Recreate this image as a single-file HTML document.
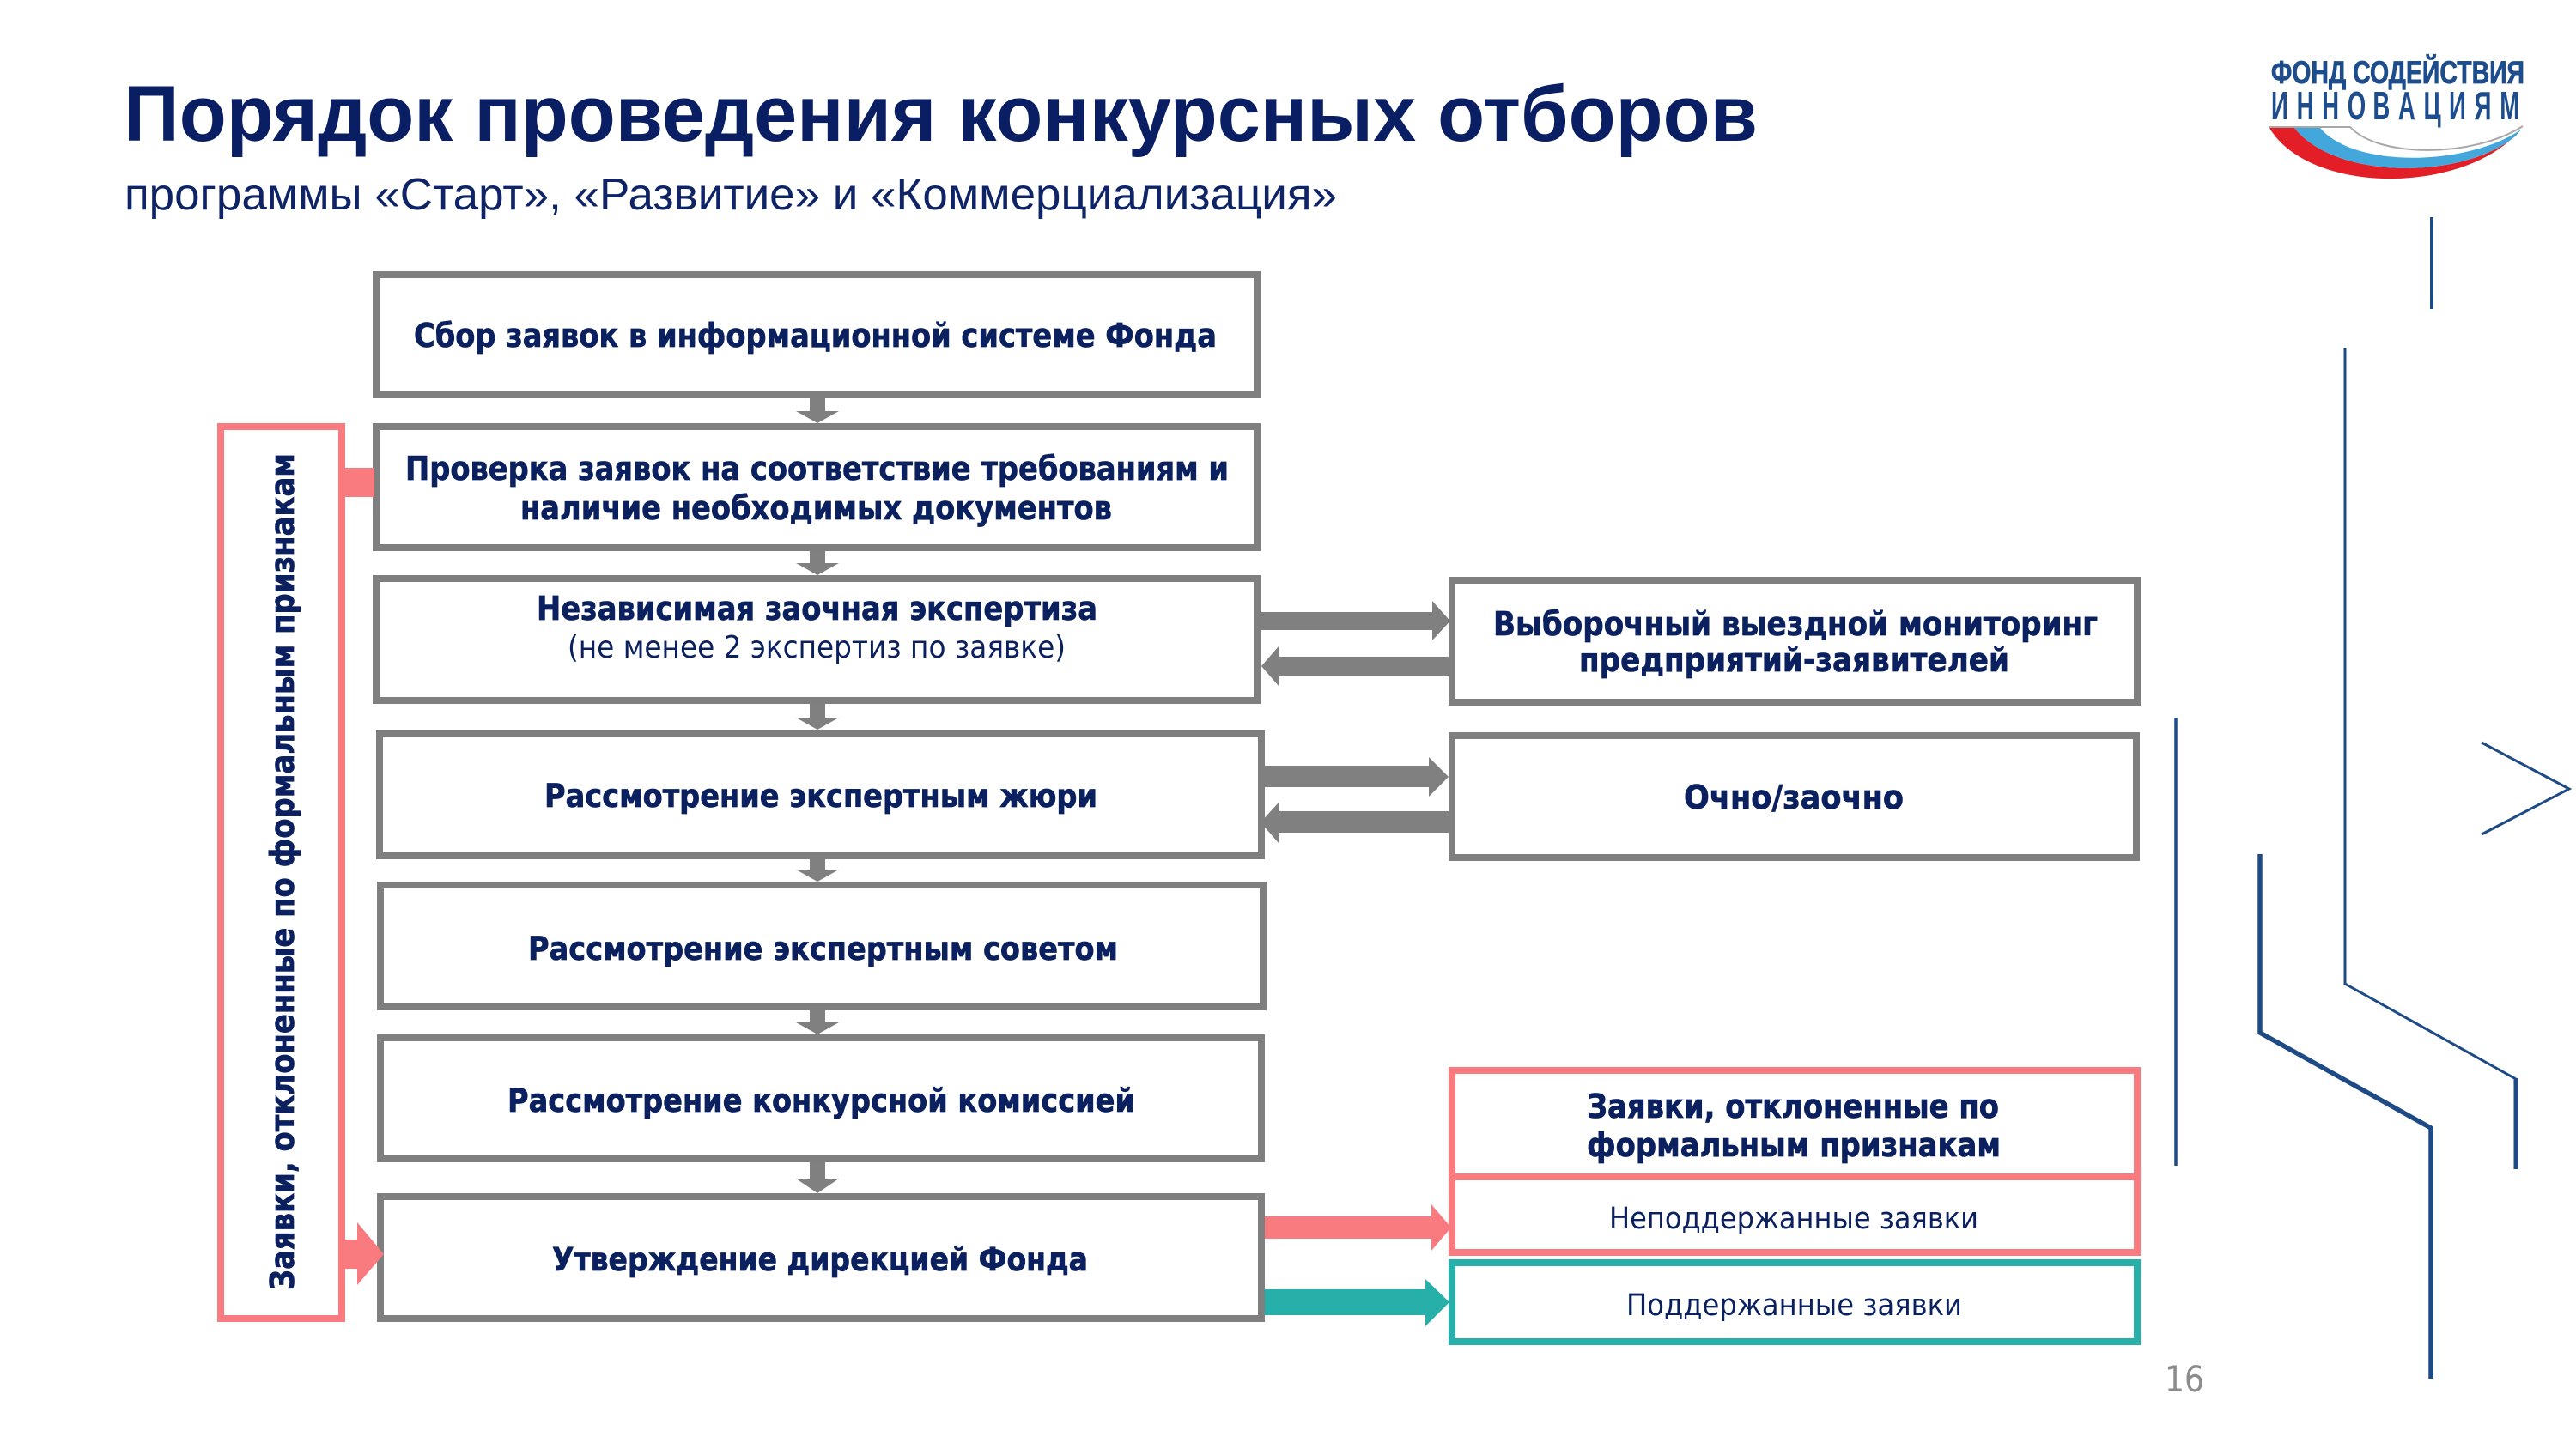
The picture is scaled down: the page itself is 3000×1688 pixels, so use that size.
<!DOCTYPE html>
<html><head><meta charset="utf-8"><style>
html,body{margin:0;padding:0;background:#fff;}
svg{display:block;}
.b{font-family:"DejaVu Sans","Liberation Sans",sans-serif;font-weight:bold;fill:#0b215f;stroke:#0b215f;stroke-width:0.7;}
.r{font-family:"DejaVu Sans","Liberation Sans",sans-serif;font-weight:normal;fill:#0b215f;}
</style></head><body>
<svg width="3000" height="1688" viewBox="0 0 3000 1688" xmlns="http://www.w3.org/2000/svg">
<rect width="3000" height="1688" fill="#fff"/>

<!-- Title -->
<text x="144" y="164" font-family="Liberation Sans, sans-serif" font-weight="bold" font-size="92" fill="#0a1f63" textLength="1903" lengthAdjust="spacingAndGlyphs">Порядок проведения конкурсных отборов</text>
<text x="145" y="244" font-family="Liberation Sans, sans-serif" font-size="52" fill="#0e2467" textLength="1412" lengthAdjust="spacingAndGlyphs">программы «Старт», «Развитие» и «Коммерциализация»</text>

<!-- Logo -->
<text x="2645" y="97" font-family="Liberation Sans, sans-serif" font-weight="bold" font-size="37" fill="#1d4d8c" stroke="#1d4d8c" stroke-width="0.8" textLength="295" lengthAdjust="spacingAndGlyphs">ФОНД СОДЕЙСТВИЯ</text>
<g transform="translate(2645,139) scale(0.6,1)">
<text x="0 49.3 98.6 147.9 197.2 246.5 295.8 345.1 394.4 443.7" y="0" font-family="Liberation Sans, sans-serif" font-weight="bold" font-size="46" fill="#1d4d8c">ИННОВАЦИЯМ</text>
</g>
<path d="M2643,149 C2690,228 2875,228 2938,148 L2930,158 C2870,210 2720,210 2672,149 Z" fill="#e31e26"/>
<path d="M2672,149 C2720,210 2870,210 2930,158 L2936,151 C2870,195 2740,195 2702,149 Z" fill="#43a7dc"/>
<path d="M2643,148 L2737,148 C2770,184 2880,184 2938,147" fill="none" stroke="#a8a8a8" stroke-width="2"/>

<!-- Decorative lines -->
<g stroke="#1e4a85" fill="none" stroke-linejoin="miter">
<line x1="2832" y1="253" x2="2832" y2="360" stroke-width="4"/>
<polyline points="2731,405 2731,1146 2930,1257" stroke-width="3"/>
<line x1="2930" y1="1256" x2="2930" y2="1362" stroke-width="5"/>
<line x1="2534" y1="836" x2="2534" y2="1358" stroke-width="3.5"/>
<polyline points="2632,995 2632,1203 2831,1314 2831,1606" stroke-width="5.5"/>
<polyline points="2890,865 2992,919 2890,972" stroke-width="3"/>
</g>
<text x="2521" y="1621" font-family="DejaVu Sans, sans-serif" font-size="42" fill="#8c8c8c" textLength="46" lengthAdjust="spacingAndGlyphs">16</text>

<!-- Down arrows -->
<g fill="#808080">
<rect x="943" y="462" width="18" height="18"/><polygon points="927,479 977,479 952,493"/>
<rect x="943" y="640" width="18" height="17"/><polygon points="927,656 977,656 952,670"/>
<rect x="943" y="818" width="18" height="19"/><polygon points="927,836 977,836 952,850"/>
<rect x="943" y="999" width="18" height="15"/><polygon points="927,1013 977,1013 952,1027"/>
<rect x="943" y="1175" width="18" height="17"/><polygon points="927,1191 977,1191 952,1205"/>
<rect x="943" y="1352" width="18" height="22"/><polygon points="927,1373 977,1373 952,1390"/>
</g>

<!-- Main boxes -->
<g fill="#fff" stroke="#7f7f7f" stroke-width="8">
<rect x="438" y="320" width="1026" height="140"/>
<rect x="438" y="497" width="1026" height="141"/>
<rect x="438" y="674" width="1026" height="142"/>
<rect x="442" y="854" width="1027" height="143"/>
<rect x="443" y="1031" width="1028" height="142"/>
<rect x="443" y="1209" width="1026" height="141"/>
<rect x="443" y="1394" width="1026" height="142"/>
<rect x="1691" y="676" width="798" height="142"/>
<rect x="1691" y="857" width="797" height="142"/>
</g>
<g fill="#fff" stroke="#f97b80" stroke-width="8">
<rect x="1691" y="1247" width="798" height="212"/>
<line x1="1691" y1="1371" x2="2489" y2="1371"/>
<rect x="257" y="497" width="141" height="1039"/>
</g>
<rect x="1691" y="1471" width="798" height="92" fill="#fff" stroke="#27b0aa" stroke-width="8"/>

<!-- Horizontal arrows -->
<g fill="#808080">
<polygon points="1468,713 1668,713 1668,700 1689,723.5 1668,746 1668,734 1468,734"/>
<polygon points="1689,765 1489,765 1489,753 1469,776 1489,799 1489,788 1689,788"/>
<polygon points="1473,892 1664,892 1664,882 1687,905 1664,928 1664,917 1473,917"/>
<polygon points="1687,945 1489,945 1489,935 1468,958 1489,982 1489,970 1687,970"/>
</g>
<polygon fill="#f97b80" points="1473,1417 1667,1417 1667,1403 1690,1430 1667,1457 1667,1443 1473,1443"/>
<polygon fill="#27b0aa" points="1473,1502 1660,1502 1660,1490 1688,1517 1660,1545 1660,1532 1473,1532"/>
<polygon fill="#f97b80" points="400,1444 416,1444 416,1424 447,1461 416,1497 416,1478 400,1478"/>
<rect x="400" y="545" width="36" height="34" fill="#f97b80"/>

<!-- Box texts -->
<text class="b" x="482" y="404" font-size="38" textLength="935" lengthAdjust="spacingAndGlyphs">Сбор заявок в информационной системе Фонда</text>
<text class="b" x="472" y="559" font-size="38" textLength="959" lengthAdjust="spacingAndGlyphs">Проверка заявок на соответствие требованиям и</text>
<text class="b" x="606" y="605" font-size="38" textLength="689" lengthAdjust="spacingAndGlyphs">наличие необходимых документов</text>
<text class="b" x="625" y="722" font-size="38" textLength="653" lengthAdjust="spacingAndGlyphs">Независимая заочная экспертиза</text>
<text class="r" x="661" y="766" font-size="36" textLength="580" lengthAdjust="spacingAndGlyphs">(не менее 2 экспертиз по заявке)</text>
<text class="b" x="634" y="940" font-size="37" textLength="644" lengthAdjust="spacingAndGlyphs">Рассмотрение экспертным жюри</text>
<text class="b" x="615" y="1118" font-size="37" textLength="687" lengthAdjust="spacingAndGlyphs">Рассмотрение экспертным советом</text>
<text class="b" x="591" y="1295" font-size="37" textLength="731" lengthAdjust="spacingAndGlyphs">Рассмотрение конкурсной комиссией</text>
<text class="b" x="643" y="1480" font-size="37" textLength="624" lengthAdjust="spacingAndGlyphs">Утверждение дирекцией Фонда</text>

<text class="b" x="1739" y="740" font-size="38" textLength="704" lengthAdjust="spacingAndGlyphs">Выборочный выездной мониторинг</text>
<text class="b" x="1839" y="782" font-size="38" textLength="501" lengthAdjust="spacingAndGlyphs">предприятий-заявителей</text>
<text class="b" x="1961" y="942" font-size="38" textLength="256" lengthAdjust="spacingAndGlyphs">Очно/заочно</text>
<text class="b" x="1848" y="1302" font-size="38" textLength="480" lengthAdjust="spacingAndGlyphs">Заявки, отклоненные по</text>
<text class="b" x="1848" y="1347" font-size="38" textLength="482" lengthAdjust="spacingAndGlyphs">формальным признакам</text>
<text class="r" x="1874" y="1431" font-size="35" textLength="430" lengthAdjust="spacingAndGlyphs">Неподдержанные заявки</text>
<text class="r" x="1894" y="1532" font-size="35" textLength="391" lengthAdjust="spacingAndGlyphs">Поддержанные заявки</text>

<text class="b" transform="translate(342,1503) rotate(-90)" x="0" y="0" font-size="38" textLength="975" lengthAdjust="spacingAndGlyphs">Заявки, отклоненные по формальным признакам</text>
</svg>
</body></html>
